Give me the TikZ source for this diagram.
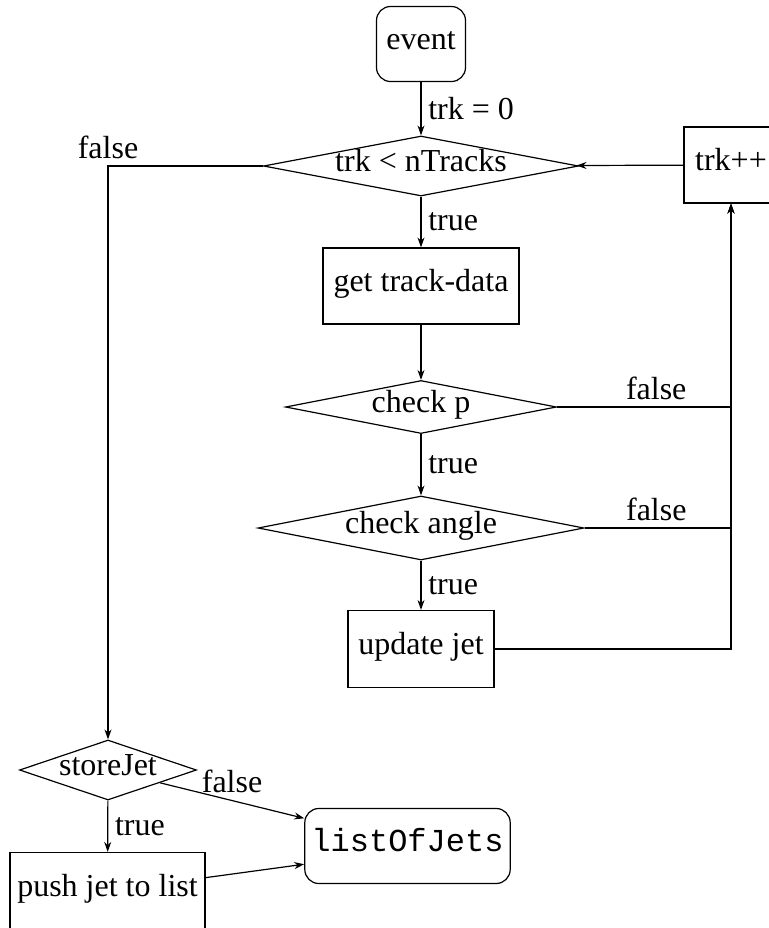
\documentclass[tikz,border=0pt]{standalone}
\usepackage{fontspec}
\setmainfont{Liberation Serif}
\setmonofont{Liberation Mono}
\usetikzlibrary{shapes.geometric,arrows.meta}
\begin{document}
\begin{tikzpicture}[x={(0.5pt,0pt)},y={(0pt,-0.5pt)},
		font=\fontsize{16}{19}\selectfont,semithick,
		>={Stealth[length=5pt,width=3.5pt]},
		block/.style={draw,text height=0.7em,text depth=0.2em},
		terminal/.style={block,rounded corners=7pt},
		decision/.style={diamond,draw,inner sep=0pt,text height=0.7em,text depth=0.2em}]
		\useasboundingbox (0,0) rectangle (768,928);
		% set up nodes
		\node[terminal,minimum width=44.5pt,minimum height=37.5pt] (event) at (421,44) {event};
		\node[decision,aspect=5.2,minimum width=157.5pt,minimum height=30pt] (loop) at (421,166) {trk < nTracks};
		\node[block,minimum width=47pt,minimum height=38pt] (trkinc) at (731,165) {trk++};
		\node[block,minimum width=98pt,minimum height=38pt] (gettrack) at (421,286) {get track-data};
		\node[decision,aspect=5.1,minimum width=135.5pt,minimum height=26.5pt] (checkp) at (421,407) {check p};
		\node[decision,aspect=5.1,minimum width=163pt,minimum height=32pt] (checkangle) at (421,528) {check angle};
		\node[block,minimum width=73pt,minimum height=38.5pt] (update) at (421,649) {update jet};
		\node[decision,aspect=2.9,minimum width=88.5pt,minimum height=30pt] (storejet) at (108,770) {storeJet};
		\node[block,minimum width=97.5pt,minimum height=38.5pt] (push) at (107.5,891) {push jet to list};
		\node[terminal,minimum width=102.5pt,minimum height=37.5pt] (jetlist) at (407.5,846) {\ttfamily listOfJets};
		% connect them
		\draw[->] (event) -- node[right] {trk = 0} (loop);
		\draw[->] (loop) -- node[right] {true} (gettrack);
		\draw[->] (gettrack) -- (checkp);
		\draw[->] (checkp) -- node[right] {true} (checkangle);
		\draw[->] (checkangle) -- node[right] {true} (update);
		\draw[->] (checkp) -| node[pos=0.285,above] {false} (trkinc);
		\draw[->] (checkangle) -| node[pos=0.245,above] {false} (trkinc);
		\draw[->] (update) -| (trkinc);
		\draw[->] (trkinc) -- (loop);
		\draw[->] (loop) -| node[pos=0.5,above] {false} (storejet);
		\draw[->] (storejet) -- node[right] {true} (push);
		\draw[->] (storejet) -- node[above] {false} (jetlist.165);
		\draw[->] (push) -- (jetlist.190);
	\end{tikzpicture}
\end{document}
